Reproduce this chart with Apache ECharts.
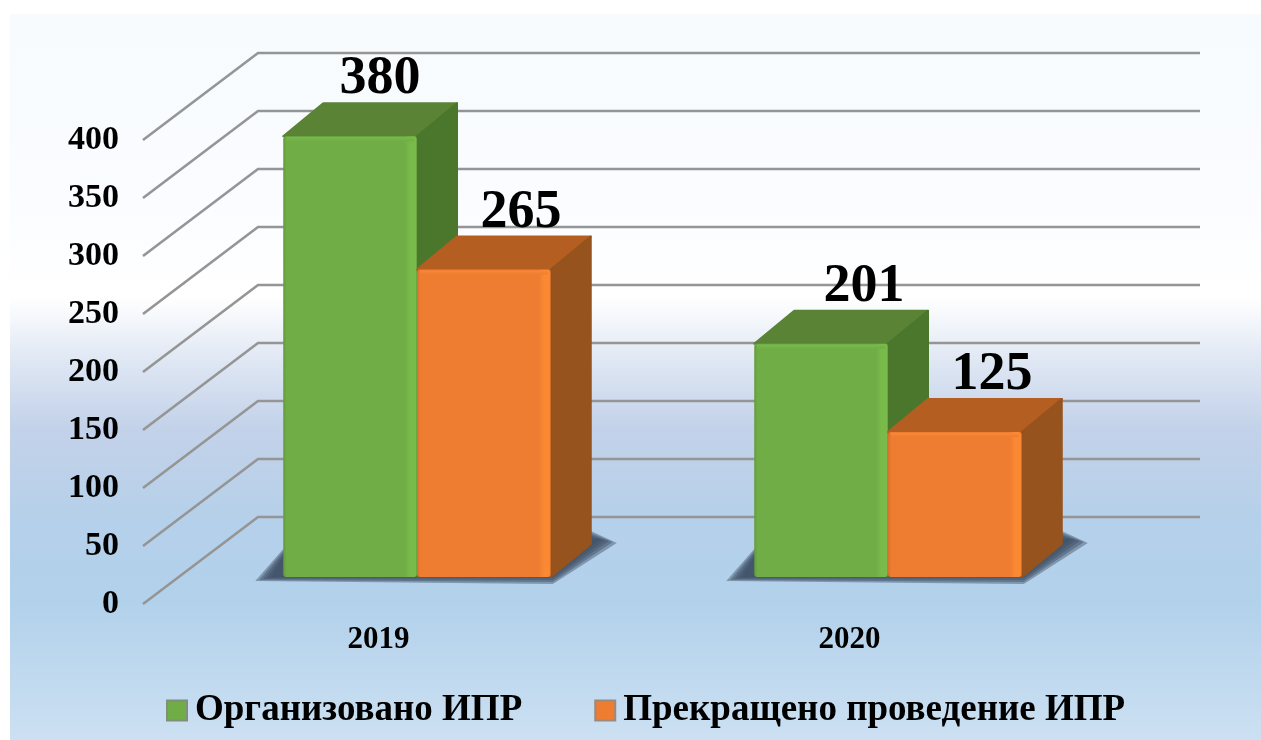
<!DOCTYPE html>
<html>
<head>
<meta charset="utf-8">
<style>
    html, body { margin: 0; padding: 0; background: #fff; }
    #main { width: 1261px; height: 740px; }
</style>
<script src="https://cdn.jsdelivr.net/npm/echarts@6/dist/echarts.min.js"></script>
</head>
<body>
<div id="main"></div>
<script type="text/javascript">
    // данные диаграммы
    var years = ['2019', '2020'];
    var seriesNames = ['Организовано ИПР', 'Прекращено проведение ИПР'];
    var organized = [380, 201];
    var stopped = [265, 125];
    var yTicks = [0, 50, 100, 150, 200, 250, 300, 350, 400];

    var serif = '"Liberation Serif", "Times New Roman", serif';

    // псевдо-3D: сдвиг задней стенки и столбиков от передней плоскости сетки
    var wallDx = 115, wallDy = 87;
    var barDx = 38.5, barDy = 27;
    var depthDx = 40, depthDy = 33;
    var barPart = 0.284;
    var labelDx = {green: [30, 43], orange: [37, 37]};

    var green = {front: '#70ad47', edge: '#78bb4a', dark: '#639a3d', top: '#5a8335', side: '#4a772b'};
    var orange = {front: '#ee7d31', edge: '#fb8833', dark: '#d9702b', top: '#b55e22', side: '#97531d'};

    function seriesData(values) {
        var out = [];
        for (var i = 0; i < values.length; i++) {
            out.push([i, values[i]]);
        }
        return out;
    }

    function faceFill(c) {
        return new echarts.graphic.LinearGradient(0, 0, 1, 0, [
            {offset: 0, color: c.dark},
            {offset: 0.025, color: c.front},
            {offset: 0.91, color: c.front},
            {offset: 0.95, color: c.edge},
            {offset: 0.99, color: c.edge},
            {offset: 1, color: c.dark}
        ]);
    }

    function poly(points, fill) {
        return {
            type: 'polygon',
            shape: {points: points},
            style: {fill: fill, stroke: fill, lineWidth: 2, lineJoin: 'round'}
        };
    }

    // столбик: передняя грань, верх, бок и подпись
    function barRenderer(colors, slot, shifts) {
        return function (params, api) {
            var idx = api.value(0);
            var top = api.coord([idx, api.value(1)]);
            var base = api.coord([idx, 0]);
            var w = api.size([1, 0])[0] * barPart;
            var left = top[0] + barDx + (slot === 0 ? -w : 0);
            var right = left + w;
            var yTop = top[1] - barDy;
            var yBase = base[1] - barDy;
            return {
                type: 'group',
                children: [
                    poly([[left, yTop], [left + depthDx, yTop - depthDy], [right + depthDx, yTop - depthDy], [right, yTop]], colors.top),
                    poly([[right, yTop], [right + depthDx, yTop - depthDy], [right + depthDx, yBase - depthDy], [right, yBase]], colors.side),
                    {
                        type: 'rect',
                        shape: {x: left, y: yTop, width: w, height: yBase - yTop, r: 3},
                        style: {fill: faceFill(colors)}
                    },
                    {
                        type: 'rect',
                        shape: {x: left + 3, y: yTop + 1, width: w - 6, height: 4},
                        style: {
                            fill: new echarts.graphic.LinearGradient(0, 0, 0, 1, [
                                {offset: 0, color: colors.edge},
                                {offset: 1, color: colors.front}
                            ])
                        }
                    },
                    {
                        type: 'text',
                        style: {
                            text: String(api.value(1)),
                            x: left + w / 2 + shifts[idx],
                            y: yTop - 57,
                            fill: '#000',
                            font: 'bold 54px ' + serif,
                            align: 'center',
                            verticalAlign: 'middle'
                        }
                    }
                ]
            };
        };
    }

    // линии сетки: диагональ на боковой стенке и горизонталь на задней
    function gridRenderer(params, api) {
        var start = api.coord([0, api.value(0)]);
        var band = api.size([1, 0])[0];
        var x0 = start[0] - band / 2;
        var y0 = start[1];
        return {
            type: 'polyline',
            shape: {points: [[x0, y0], [x0 + wallDx, y0 - wallDy], [x0 + wallDx + band * years.length, y0 - wallDy]]},
            style: {fill: 'none', stroke: '#959595', lineWidth: 2.6}
        };
    }

    // тень на полу: несколько полупрозрачных слоёв дают мягкий край
    function shadowRenderer(params, api) {
        var base = api.coord([api.value(0), 0]);
        var w = api.size([1, 0])[0] * barPart;
        var l = base[0] + barDx - w;
        var r = base[0] + barDx + w;
        var y = base[1] - barDy;
        var layers = [];
        for (var k = 0; k < 5; k++) {
            var g = 4 - k * 2;
            layers.push({
                type: 'polygon',
                shape: {points: [
                    [l - 20 - g * 2, y + 2 + g / 2],
                    [r + 2, y + 3 + g],
                    [r + 58 + g * 2, y - 36 + g / 2],
                    [r + 40, y - 42 - g],
                    [l, y - 24 - g]
                ]},
                style: {fill: '#3d4f66', opacity: 0.45}
            });
        }
        return {type: 'group', children: layers};
    }

    var myChart = echarts.init(document.getElementById('main'));
    var tickData = [];
    for (var t = 0; t < yTicks.length; t++) {
        tickData.push([yTicks[t]]);
    }
    var shadowData = [];
    for (var s = 0; s < years.length; s++) {
        shadowData.push([s]);
    }

    myChart.setOption({
        animation: false,
        graphic: [{
            type: 'rect',
            z: -10,
            shape: {x: 10, y: 14, width: 1251, height: 726},
            style: {
                fill: new echarts.graphic.LinearGradient(0, 0, 0, 1, [
                    {offset: 0, color: '#f7fbfe'},
                    {offset: 0.25, color: '#fafcff'},
                    {offset: 0.39, color: '#ffffff'},
                    {offset: 0.49, color: '#dbe4f2'},
                    {offset: 0.57, color: '#c3d2e9'},
                    {offset: 0.70, color: '#b5d0ea'},
                    {offset: 0.81, color: '#b2d1eb'},
                    {offset: 1, color: '#cce0f2'}
                ])
            }
        }],
        grid: {left: 143, top: 140, width: 942, height: 464},
        xAxis: {
            type: 'category',
            data: years,
            axisLine: {show: false},
            axisTick: {show: false},
            axisLabel: {
                margin: 20,
                color: '#000',
                fontFamily: serif,
                fontWeight: 'bold',
                fontSize: 31
            }
        },
        yAxis: {
            type: 'value',
            min: 0,
            max: 400,
            interval: 50,
            axisLine: {show: false},
            axisTick: {show: false},
            splitLine: {show: false},
            axisLabel: {
                margin: 24,
                color: '#000',
                fontFamily: serif,
                fontWeight: 'bold',
                fontSize: 34
            }
        },
        legend: {
            left: 161,
            top: 687,
            itemWidth: 20,
            itemHeight: 20,
            itemGap: 72,
            icon: 'rect',
            data: seriesNames,
            textStyle: {
                color: '#000',
                fontFamily: serif,
                fontWeight: 'bold',
                fontSize: 37,
                padding: [0, 0, 0, 3]
            }
        },
        series: [
            {
                type: 'custom',
                name: 'grid',
                silent: true,
                z: 1,
                clip: false,
                renderItem: gridRenderer,
                data: tickData,
                encode: {y: 0}
            },
            {
                type: 'custom',
                name: 'shadow',
                silent: true,
                z: 2,
                clip: false,
                renderItem: shadowRenderer,
                data: shadowData,
                encode: {x: 0}
            },
            {
                type: 'custom',
                name: seriesNames[0],
                z: 3,
                clip: false,
                itemStyle: {color: green.front, borderColor: '#7f8f78', borderWidth: 1},
                renderItem: barRenderer(green, 0, labelDx.green),
                data: seriesData(organized),
                encode: {x: 0, y: 1}
            },
            {
                type: 'custom',
                name: seriesNames[1],
                z: 4,
                clip: false,
                itemStyle: {color: orange.front, borderColor: '#9a8a80', borderWidth: 1},
                renderItem: barRenderer(orange, 1, labelDx.orange),
                data: seriesData(stopped),
                encode: {x: 0, y: 1}
            }
        ]
    });
</script>
</body>
</html>
